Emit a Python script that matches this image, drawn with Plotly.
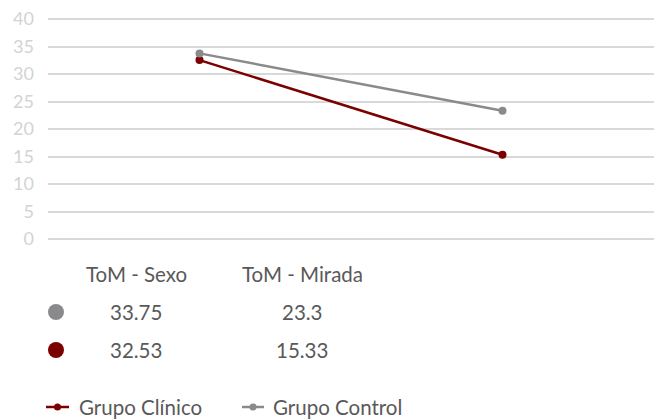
import plotly.graph_objects as go

categories = ["ToM - Sexo", "ToM - Mirada"]
series_names = ["Grupo Clínico", "Grupo Control"]
clinico = [32.53, 15.33]
control = [33.75, 23.3]
y_ticks = [0, 5, 10, 15, 20, 25, 30, 35, 40]

RED = "#7b0000"
GRAY = "#8a8a8c"
TEXT = "#595959"
GRID = "#d9d9d9"
FONT = "Lato"

W, H = 654, 419
T, B, L = 0, 0, 48
plot_w = W - L
plot_h = H - T - B

def px_x(px):
    return (px - L) / plot_w

def px_y(py):
    return (H - B - py) / plot_h

# value axis spans pixel rows 19 (40) .. 239 (0); padded so the edge gridlines are kept
pad = 0.6
unit = (239 - 19) / 40.0
top_py = 19 - pad * unit
bot_py = 239 + pad * unit
dom = [px_y(bot_py), px_y(top_py)]

fig = go.Figure()
fig.add_trace(go.Scatter(
    x=categories, y=clinico, name=series_names[0], mode="lines+markers",
    line=dict(color=RED, width=2.5), marker=dict(color=RED, size=8),
    showlegend=False,
))
fig.add_trace(go.Scatter(
    x=categories, y=control, name=series_names[1], mode="lines+markers",
    line=dict(color=GRAY, width=2.5), marker=dict(color=GRAY, size=8),
    showlegend=False,
))

# data table under the chart
col_px = [136, 302]
header_py = 274
row_py = [312, 350]
rows = [(control, GRAY), (clinico, RED)]
annotations = []
shapes = []
for cat, cx in zip(categories, col_px):
    annotations.append(dict(
        x=px_x(cx), y=px_y(header_py), xref="paper", yref="paper",
        text=cat, showarrow=False, xanchor="center", yanchor="middle",
        font=dict(family=FONT, size=20.5, color=TEXT),
    ))
for (vals, color), ry in zip(rows, row_py):
    for v, cx in zip(vals, col_px):
        annotations.append(dict(
            x=px_x(cx), y=px_y(ry), xref="paper", yref="paper",
            text=f"{v:g}", showarrow=False, xanchor="center", yanchor="middle",
            font=dict(family=FONT, size=20.5, color=TEXT),
        ))
    shapes.append(dict(
        type="circle", xref="paper", yref="paper",
        xsizemode="pixel", ysizemode="pixel",
        xanchor=px_x(56), yanchor=px_y(ry),
        x0=-8, x1=8, y0=-8, y1=8,
        fillcolor=color, line=dict(width=0),
    ))

# legend keys
legend_py = 407
legend_items = [(series_names[0], RED, 46, 69, 78), (series_names[1], GRAY, 242, 264, 272)]
for name, color, lx0, lx1, tx in legend_items:
    shapes.append(dict(
        type="line", xref="paper", yref="paper",
        x0=px_x(lx0), x1=px_x(lx1), y0=px_y(legend_py), y1=px_y(legend_py),
        line=dict(color=color, width=2.5),
    ))
    cx = (lx0 + lx1) / 2
    shapes.append(dict(
        type="circle", xref="paper", yref="paper",
        xsizemode="pixel", ysizemode="pixel",
        xanchor=px_x(cx), yanchor=px_y(legend_py),
        x0=-3.5, x1=3.5, y0=-3.5, y1=3.5,
        fillcolor=color, line=dict(width=0),
    ))
    annotations.append(dict(
        x=px_x(tx), y=px_y(legend_py), xref="paper", yref="paper",
        text=name, showarrow=False, xanchor="left", yanchor="middle",
        xshift=-1,
        font=dict(family=FONT, size=20.5, color=TEXT),
    ))

fig.update_layout(
    width=W, height=H,
    margin=dict(l=L, r=0, t=T, b=B, autoexpand=False),
    paper_bgcolor="white", plot_bgcolor="white",
    font=dict(family=FONT, color=TEXT),
    showlegend=False,
    xaxis=dict(
        type="category", range=[-0.5, 1.5], showgrid=False, showline=False,
        zeroline=False, showticklabels=False, ticks="", automargin=False,
    ),
    yaxis=dict(
        domain=dom, range=[-pad, 40 + pad], tickvals=y_ticks,
        showgrid=True, gridcolor=GRID, gridwidth=2, zeroline=False,
        showline=False, ticks="", ticklabelstandoff=13, automargin=False,
        tickfont=dict(family=FONT, size=18, color="#d3d3d3"),
    ),
    annotations=annotations,
    shapes=shapes,
)

fig.write_html("out.html")
